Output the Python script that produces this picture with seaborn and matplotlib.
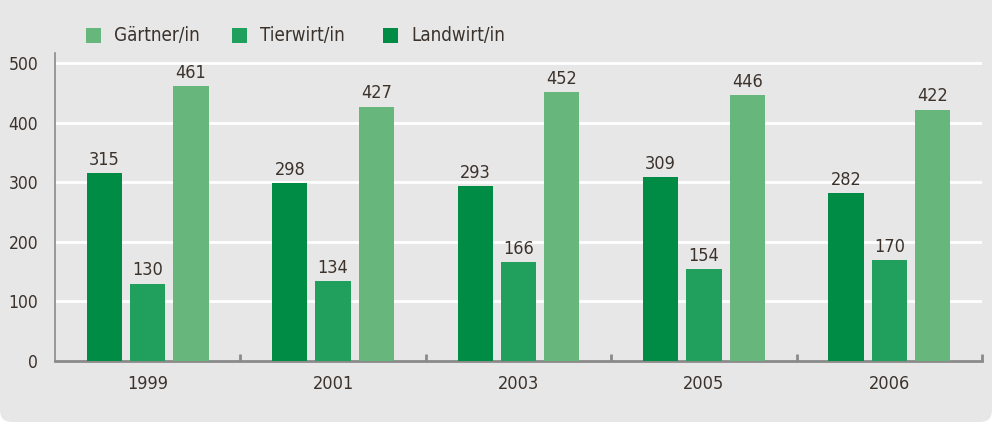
import matplotlib
matplotlib.use("Agg")
import matplotlib.pyplot as plt
from matplotlib.patches import FancyBboxPatch, Rectangle
import seaborn as sns
import pandas as pd

years = ["1999", "2001", "2003", "2005", "2006"]
landwirt = [315, 298, 293, 309, 282]
tierwirt = [130, 134, 166, 154, 170]
gaertner = [461, 427, 452, 446, 422]
yticks = [0, 100, 200, 300, 400, 500]

series_names = ["Landwirt/in", "Tierwirt/in", "Gärtner/in"]
colors = {"Landwirt/in": "#008C44", "Tierwirt/in": "#21A05D", "Gärtner/in": "#67B77C"}
legend_order = ["Gärtner/in", "Tierwirt/in", "Landwirt/in"]

df = pd.DataFrame({
    "Jahr": years * 3,
    "Beruf": [n for n in series_names for _ in years],
    "Anzahl": landwirt + tierwirt + gaertner,
})

sns.set_theme(style="white")
plt.rcParams["font.family"] = ["DejaVu Sans"]
plt.rcParams["font.stretch"] = "condensed"
text_color = "#3b322c"
bg = "#e7e7e7"

W, H = 997, 426
fig = plt.figure(figsize=(W / 100, H / 100), dpi=100, facecolor="white")

# rounded grey panel behind the chart
panel = FancyBboxPatch((0, 4 / H), 992 / W, 1.2, boxstyle="round,pad=0,rounding_size=0.012",
                       transform=fig.transFigure, facecolor=bg, edgecolor="none",
                       mutation_aspect=W / H, zorder=-10)
fig.patches.append(panel)

ax = fig.add_axes([55 / W, (H - 361) / H, 927 / W, (361 - 53) / H])
ax.set_facecolor(bg)

sns.barplot(data=df, x="Jahr", y="Anzahl", hue="Beruf", hue_order=series_names,
            palette=colors, width=0.7, gap=0.185, dodge=True, ax=ax,
            legend=False, saturation=1, linewidth=0, edgecolor="none", zorder=3)

ax.set_xlim(-0.5, 4.5)
ax.set_ylim(0, 517)
ax.set_yticks(yticks)
ax.set_yticklabels([str(v) for v in yticks])
for v in yticks[1:]:
    ax.axhline(v, color="white", lw=2, zorder=1)

# value labels above the bars
for cont in ax.containers:
    ax.bar_label(cont, labels=[f"{int(v)}" for v in cont.datavalues], padding=3,
                 fontsize=13, color=text_color)

for s in ["top", "right"]:
    ax.spines[s].set_visible(False)
ax.spines["left"].set_color("#8a8a8a")
ax.spines["left"].set_linewidth(1.2)
ax.spines["bottom"].set_color("#8a8a8a")
ax.spines["bottom"].set_linewidth(2)

ax.set_xlabel("")
ax.set_ylabel("")
ax.tick_params(axis="y", length=0, pad=12, labelsize=12.5, labelcolor=text_color)
ax.tick_params(axis="x", length=0, pad=10, labelsize=13, labelcolor=text_color)

# separator ticks between the year groups
for xb in [0.5, 1.5, 2.5, 3.5, 4.5]:
    ax.plot([xb, xb], [0, 12], color="#8a8a8a", lw=2, zorder=4, clip_on=False,
            solid_capstyle="butt")

# legend row across the top
leg_x = [86, 232, 383]
for name, lx in zip(legend_order, leg_x):
    fig.patches.append(Rectangle((lx / W, (H - 43) / H), 15 / W, 15 / H,
                                 transform=fig.transFigure, facecolor=colors[name],
                                 edgecolor="none"))
    fig.text((lx + 28) / W, (H - 35.5) / H, name, fontsize=13.5, color=text_color,
             va="center", ha="left")

fig.savefig("out.png", dpi=100, facecolor="white")
